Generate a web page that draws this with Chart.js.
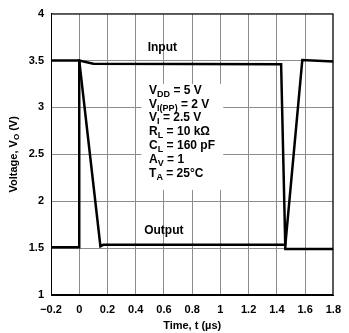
<!DOCTYPE html>
<html>
<head>
<meta charset="utf-8">
<script src="https://cdn.jsdelivr.net/npm/chart.js@4.4.1/dist/chart.umd.min.js"></script>
<style>
  html, body { margin: 0; padding: 0; background: #fff; }
  #wrap { width: 349px; height: 333px; }
</style>
</head>
<body>
<div id="wrap"><canvas id="chart"></canvas></div>
<script>
// waveforms (time in µs, volts)
const inputT = [-0.2, 0, 0, 0.1, 1.43, 1.46, 1.8];
const inputV = [1.51, 1.51, 3.5, 3.465, 3.46, 1.49, 1.49];
const outputT = [-0.2, 0, 0.15, 0.17, 1.46, 1.58, 1.8];
const outputV = [3.5, 3.5, 1.52, 1.535, 1.535, 3.505, 3.49];

const xMin = -0.2, xMax = 1.8, xStep = 0.2;
const yMin = 1, yMax = 4, yStep = 0.5;

// test conditions box: [main, subscript, rest]
const conditions = [
  ["V", "DD", " = 5 V"],
  ["V", "I(PP)", " = 2 V"],
  ["V", "I", " = 2.5 V"],
  ["R", "L", " = 10 k\u03A9"],
  ["C", "L", " = 160 pF"],
  ["A", "V", " = 1"],
  ["T", "A", " = 25\u00B0C"]
];

const FONT = "Liberation Sans, Arial, Helvetica, sans-serif";

function pts(ts, vs) {
  return ts.map((t, i) => ({ x: t, y: vs[i] }));
}

function drawSub(c, x, y, parts, size) {
  c.font = "bold " + size + "px " + FONT;
  c.fillText(parts[0], x, y);
  x += c.measureText(parts[0]).width;
  c.font = "bold " + Math.round(size * 0.75) + "px " + FONT;
  c.fillText(parts[1], x, y + 3);
  x += c.measureText(parts[1]).width;
  c.font = "bold " + size + "px " + FONT;
  c.fillText(parts[2], x, y);
}

const decor = {
  id: "decor",
  beforeDatasetsDraw(chart) {
    const c = chart.ctx, xs = chart.scales.x, ys = chart.scales.y;
    c.save();
    // white box behind the conditions
    const bx0 = xs.getPixelForValue(0.44), bx1 = xs.getPixelForValue(1.02);
    const by0 = ys.getPixelForValue(3.25), by1 = ys.getPixelForValue(2.12);
    c.fillStyle = "#fff";
    c.fillRect(bx0, by0, bx1 - bx0, by1 - by0);
    c.fillStyle = "#000";
    c.textBaseline = "alphabetic";
    c.textAlign = "left";
    const tx = xs.getPixelForValue(0.495);
    let ty = ys.getPixelForValue(3.145);
    conditions.forEach(p => { drawSub(c, tx, ty, p, 12); ty += 13.8; });
    // series labels
    c.font = "bold 12px " + FONT;
    c.fillText("Input", xs.getPixelForValue(0.485), ys.getPixelForValue(3.6));
    c.fillText("Output", xs.getPixelForValue(0.46), ys.getPixelForValue(1.65));
    c.restore();
  },
  afterDraw(chart) {
    const c = chart.ctx, a = chart.chartArea;
    c.save();
    c.strokeStyle = "#000";
    c.lineWidth = 1;
    c.strokeRect(a.left + 0.5, a.top + 0.5, a.right - a.left - 1, a.bottom - a.top - 1);
    // y axis title with subscript
    c.translate(14, (a.top + a.bottom) / 2);
    c.rotate(-Math.PI / 2);
    c.fillStyle = "#000";
    c.textBaseline = "middle";
    const p1 = "Voltage, V", p2 = "O", p3 = " (V)";
    c.font = "bold 11px " + FONT;
    const w1 = c.measureText(p1).width, w3 = c.measureText(p3).width;
    c.font = "bold 8px " + FONT;
    const w2 = c.measureText(p2).width;
    let x = -(w1 + w2 + w3) / 2;
    c.textAlign = "left";
    c.font = "bold 11px " + FONT;
    c.fillText(p1, x, 0); x += w1;
    c.font = "bold 8px " + FONT;
    c.fillText(p2, x, 3); x += w2;
    c.font = "bold 11px " + FONT;
    c.fillText(p3, x, 0);
    c.restore();
  }
};

new Chart(document.getElementById("chart").getContext("2d"), {
  type: "scatter",
  data: {
    datasets: [
      {
        label: "Input",
        data: pts(inputT, inputV),
        showLine: true,
        borderColor: "#000",
        borderWidth: 2.5,
        pointRadius: 0,
        tension: 0
      },
      {
        label: "Output",
        data: pts(outputT, outputV),
        showLine: true,
        borderColor: "#000",
        borderWidth: 2.5,
        pointRadius: 0,
        tension: 0
      }
    ]
  },
  options: {
    responsive: true,
    maintainAspectRatio: false,
    animation: false,
    layout: { padding: { left: 0, right: 9, top: 6, bottom: 0 } },
    plugins: { legend: { display: false }, tooltip: { enabled: false } },
    scales: {
      x: {
        type: "linear",
        min: xMin,
        max: xMax,
        afterFit: s => { s.height = 38; },
        afterBuildTicks: s => {
          s.ticks = [];
          for (let i = 0; i <= Math.round((xMax - xMin) / xStep); i++)
            s.ticks.push({ value: Math.round((xMin + i * xStep) * 10) / 10 });
        },
        grid: { color: "#8c8c8c", lineWidth: 1, drawTicks: false },
        border: { color: "#000" },
        ticks: {
          padding: 8,
          color: "#000",
          font: { family: FONT, size: 11, weight: "bold" },
          callback: v => {
            const r = Math.round(v * 10) / 10;
            return r < 0 ? "\u2212" + Math.abs(r) : String(r);
          }
        },
        title: {
          display: true,
          text: "Time, t (\u00B5s)",
          color: "#000",
          font: { family: FONT, size: 11, weight: "bold" },
          padding: { top: 2, bottom: 0 }
        }
      },
      y: {
        min: yMin,
        max: yMax,
        afterFit: s => { s.width = 51; },
        grid: { color: "#8c8c8c", lineWidth: 1, drawTicks: false },
        border: { color: "#000" },
        ticks: {
          stepSize: yStep,
          padding: 7,
          color: "#000",
          font: { family: FONT, size: 11, weight: "bold" },
          callback: v => String(v)
        }
      }
    }
  },
  plugins: [decor]
});
</script>
</body>
</html>
